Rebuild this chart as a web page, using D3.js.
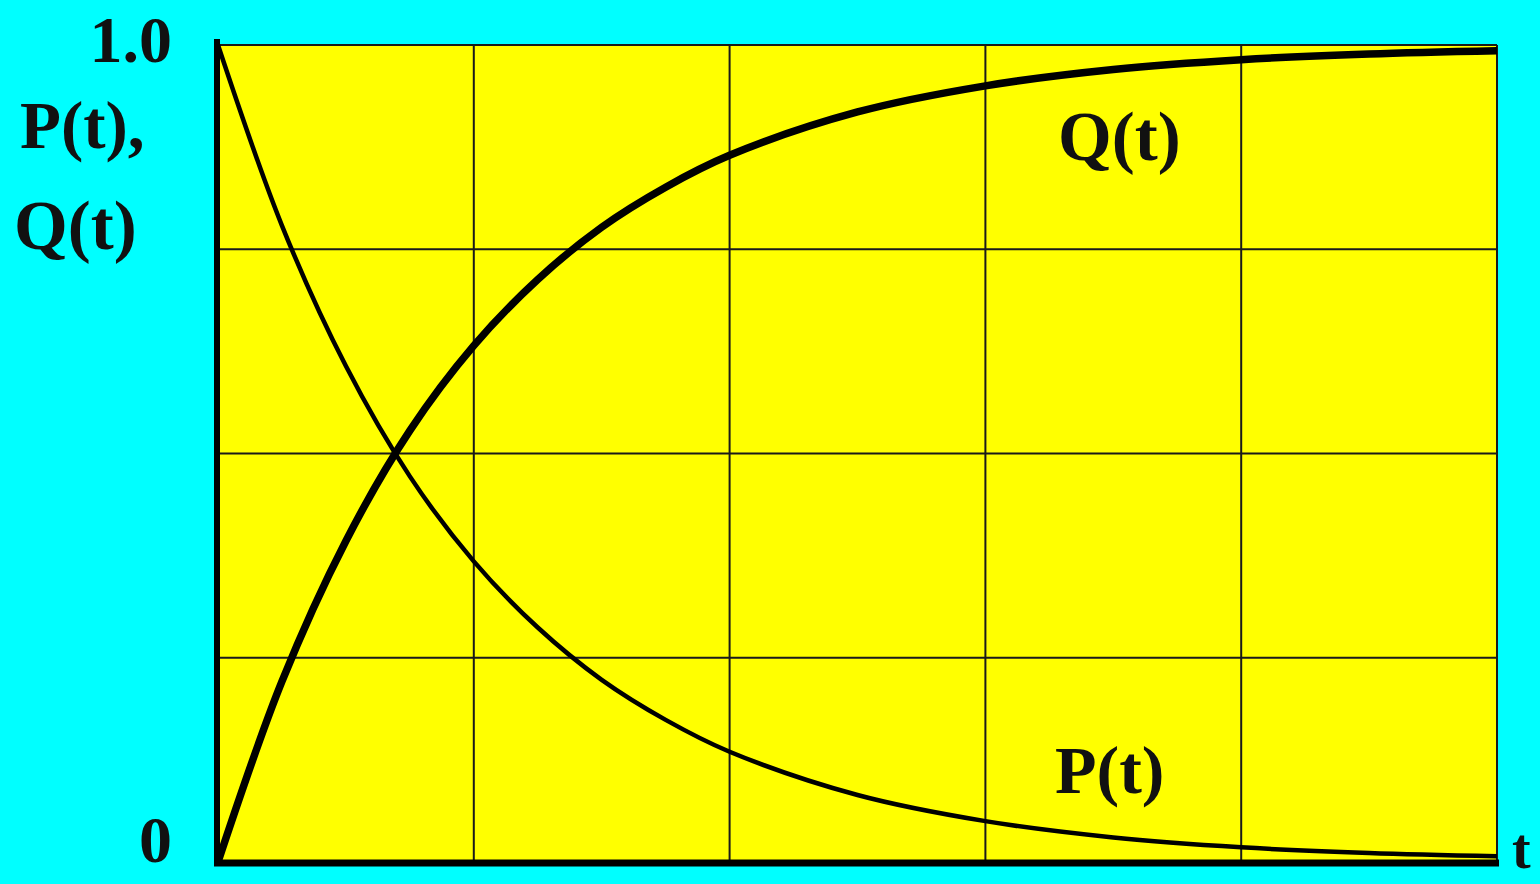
<!DOCTYPE html>
<html>
<head>
<meta charset="utf-8">
<script src="https://cdn.jsdelivr.net/npm/d3@7"></script>
<style>
  html, body { margin: 0; padding: 0; background: #00ffff; }
  svg { display: block; }
  text { font-family: "Liberation Serif", "Times New Roman", serif; font-weight: bold; fill: #111; }
</style>
</head>
<body>
<div id="chart"></div>
<script>
// values
var tValues = [0, 0.25, 0.5, 0.75, 1, 1.25, 1.5, 1.75, 2, 2.5, 3, 3.5, 4, 4.5, 5];
var pValues = [1.000, 0.779, 0.607, 0.472, 0.368, 0.287, 0.223, 0.174, 0.135, 0.082, 0.050, 0.030, 0.018, 0.011, 0.007];
var qValues = [0.000, 0.221, 0.393, 0.528, 0.632, 0.713, 0.777, 0.826, 0.865, 0.918, 0.950, 0.970, 0.982, 0.989, 0.993];

var xGrid = [0, 1, 2, 3, 4, 5];
var yGrid = [0, 0.25, 0.5, 0.75, 1];
var yTickLabels = [{v: 1, label: "1.0"}, {v: 0, label: "0"}];

function init() {
    var w = 1540;
    var h = 884;

    var xScale = d3.scaleLinear()
                   .domain([0, 5])
                   .range([218, 1497]);

    var yScale = d3.scaleLinear()
                   .domain([0, 1])
                   .range([862, 45]);

    var svg = d3.select("#chart")
                .append("svg")
                .attr("width", w)
                .attr("height", h);

    // yellow plot area
    svg.append("rect")
       .attr("x", xScale(0))
       .attr("y", yScale(1))
       .attr("width", xScale(5) - xScale(0))
       .attr("height", yScale(0) - yScale(1))
       .attr("fill", "#ffff00");

    // grid
    svg.selectAll(".vgrid")
       .data(xGrid)
       .enter()
       .append("line")
       .attr("x1", function(d) { return xScale(d); })
       .attr("x2", function(d) { return xScale(d); })
       .attr("y1", yScale(1))
       .attr("y2", yScale(0))
       .attr("stroke", "#1a1a1a")
       .attr("stroke-width", 2);

    svg.selectAll(".hgrid")
       .data(yGrid)
       .enter()
       .append("line")
       .attr("x1", xScale(0))
       .attr("x2", xScale(5))
       .attr("y1", function(d) { return yScale(d); })
       .attr("y2", function(d) { return yScale(d); })
       .attr("stroke", "#1a1a1a")
       .attr("stroke-width", 2);

    // heavy axes
    svg.append("line")
       .attr("x1", xScale(0) - 1)
       .attr("x2", xScale(0) - 1)
       .attr("y1", yScale(1) - 6)
       .attr("y2", yScale(0) + 4)
       .attr("stroke", "#000")
       .attr("stroke-width", 6);

    svg.append("line")
       .attr("x1", xScale(0) - 4)
       .attr("x2", xScale(5) + 2)
       .attr("y1", yScale(0) + 1)
       .attr("y2", yScale(0) + 1)
       .attr("stroke", "#000")
       .attr("stroke-width", 7);

    var line = d3.line()
                 .x(function(d) { return xScale(d[0]); })
                 .y(function(d) { return yScale(d[1]); })
                 .curve(d3.curveCatmullRom.alpha(0.5));

    svg.append("path")
       .datum(d3.zip(tValues, pValues))
       .attr("d", line)
       .attr("fill", "none")
       .attr("stroke", "#000")
       .attr("stroke-width", 4.5);

    svg.append("path")
       .datum(d3.zip(tValues, qValues))
       .attr("d", line)
       .attr("fill", "none")
       .attr("stroke", "#000")
       .attr("stroke-width", 7.5);

    // tick labels
    svg.selectAll(".ylab")
       .data(yTickLabels)
       .enter()
       .append("text")
       .attr("x", 172)
       .attr("y", function(d) { return yScale(d.v) + (d.v === 1 ? 17 : 0); })
       .attr("text-anchor", "end")
       .attr("font-size", 66)
       .text(function(d) { return d.label; });

    // axis titles
    svg.append("text")
       .attr("x", 20)
       .attr("y", 148)
       .attr("font-size", 67)
       .text("P(t),");

    svg.append("text")
       .attr("x", 14)
       .attr("y", 249)
       .attr("font-size", 69)
       .text("Q(t)");

    svg.append("text")
       .attr("x", 1512)
       .attr("y", 868)
       .attr("font-size", 56)
       .text("t");

    // curve labels
    svg.append("text")
       .attr("x", 1058)
       .attr("y", 160)
       .attr("font-size", 69)
       .text("Q(t)");

    svg.append("text")
       .attr("x", 1055)
       .attr("y", 793)
       .attr("font-size", 68)
       .text("P(t)");
}

window.onload = init;
</script>
</body>
</html>
